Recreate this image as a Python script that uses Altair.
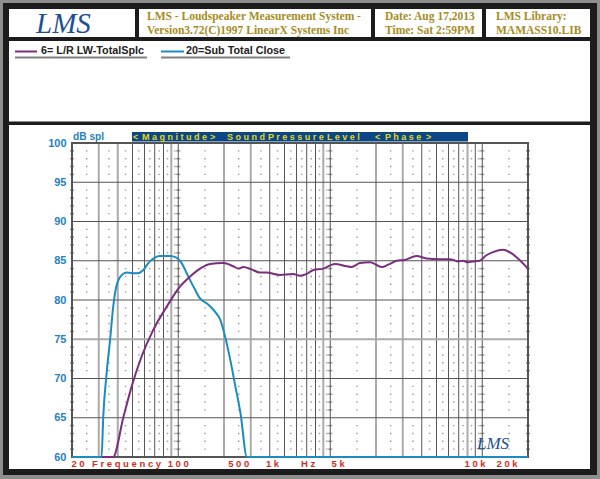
import altair as alt
import pandas as pd

# ---------------- data ----------------
blue_freq = [20, 31.3, 32.1, 33.8, 35.6, 37.3, 39.1, 42.6, 45.7, 53.3, 58.8, 63.5, 70.1,
             75.6, 88.1, 97.4, 105.3, 113.7, 125.9, 139.1, 157.9, 174.9, 188.9, 203.7,
             219.8, 237.5, 256.7, 283, 20000]
blue_db = [60, 60, 65.1, 70.7, 74.9, 79.1, 81.7, 83.2, 83.5, 83.4, 83.8, 84.7, 85.4,
           85.6, 85.6, 85.4, 84.7, 83.4, 81.7, 80.2, 79.4, 78.5, 77.5, 75.3,
           72.4, 69.0, 65.6, 60, 60]

purple_freq = [31.3, 37.2, 43.6, 49.4, 57.4, 68.5, 83.7, 102.6, 119.7, 139.1, 161.6, 197.5,
               230, 248.4, 268, 303, 345, 381, 466, 571, 630, 696, 769, 901, 1070, 1283,
               1381, 1566, 1832, 2185, 2407, 2735, 3082, 3694, 4295, 5265, 6133, 6450,
               6930, 7470, 8040, 8680, 9610, 10640, 11770, 13700, 15130, 17180, 20000]
purple_db = [60, 60, 65.1, 69.0, 72.8, 76.2, 79.1, 81.7, 83.0, 84.0, 84.6, 84.7,
             84.3, 84.0, 84.2, 83.9, 83.5, 83.5, 83.2, 83.3, 83.1, 83.3, 83.8, 84.0, 84.6, 84.3,
             84.2, 84.7, 84.8, 84.2, 84.5, 85.0, 85.1, 85.6, 85.3, 85.2, 85.2, 85.1,
             84.9, 85.0, 84.8, 84.9, 85.0, 85.7, 86.1, 86.4, 86.1, 85.3, 84.0]

y_ticks = [60, 65, 70, 75, 80, 85, 90, 95, 100]
x_label_text = ["2 0", "F r e q u e n c y", "1 0 0", "5 0 0", "1 k", "H z", "5 k", "1 0 k", "2 0 k"]
x_label_freq = [21.9, 45.7, 100, 250, 417, 714, 1128, 8966, 14560]

grid_light = [30, 40, 90, 200, 300, 900, 2000, 3000, 8000]
grid_dark = [50, 60, 70, 80, 100, 400, 500, 600, 700, 800, 1000, 4000, 5000, 6000, 7000, 9000, 10000]
hgrid_dark = [65, 70, 80, 85, 90, 95]
hgrid_light = [75]
minor_freq = [25, 35, 45, 55, 65, 75, 85, 95,
              150, 250, 350, 450, 550, 650, 750, 850, 950,
              1500, 2500, 3500, 4500, 5500, 6500, 7500, 8500, 9500, 15000]
minor_db = [d for d in range(61, 100) if d % 5]
decade_freq = [20, 100, 1000, 10000, 20000]

legend_names = ["6= L/R LW-TotalSplc", "20=Sub Total Close"]
header_title = ["LMS - Loudspeaker Measurement System -", "Version3.72(C)1997 LinearX Systems Inc"]
header_date = ["Date: Aug 17,2013", "Time: Sat 2:59PM"]
header_lib = ["LMS Library:", "MAMASS10.LIB"]

# ---------------- helpers ----------------
PX0, PY0 = 72, 143
W, H = 456, 314
one = pd.DataFrame({"k": [0]})


def px(x):
    return x - PX0


def py(y):
    return y - PY0


def box(x1, y1, x2, y2, color):
    return alt.Chart(one).mark_rect(color=color).encode(
        x=alt.value(px(x1)), x2=alt.value(px(x2)), y=alt.value(py(y1)), y2=alt.value(py(y2)))


def hline(x1, x2, y, color, w):
    return alt.Chart(one).mark_rule(color=color, strokeWidth=w).encode(
        x=alt.value(px(x1)), x2=alt.value(px(x2)), y=alt.value(py(y)))


def txt(s, x, y, color, size, font="Liberation Sans", weight="bold", style="normal", align="left"):
    return alt.Chart(one).mark_text(text=s, align=align, baseline="middle", color=color,
                                    fontSize=size, font=font, fontWeight=weight,
                                    fontStyle=style).encode(x=alt.value(px(x)), y=alt.value(py(y)))


xs = alt.Scale(type="log", domain=[20, 20000], nice=False)
ys = alt.Scale(domain=[60, 100], nice=False, zero=False)
yax = alt.Axis(values=y_ticks, labelColor="#1f82c0", labelFont="Liberation Sans",
               labelFontWeight="bold", labelFontSize=11, labelPadding=6, ticks=False,
               domain=False, grid=False, title=None, zindex=2)

layers = []
# frame
layers.append(box(3, 3, 597, 475, "#1c1c1c"))
layers.append(box(9, 9, 135, 37, "white"))
layers.append(box(139, 9, 371, 37, "white"))
layers.append(box(375, 9, 482, 37, "white"))
layers.append(box(486, 9, 590, 37, "white"))
layers.append(box(9, 41, 590, 121.5, "white"))
layers.append(box(9, 125, 590, 469, "white"))

# header texts
gold = "#a68c1f"
layers.append(txt("LMS", 36, 24, "#1d4f96", 29, font="Liberation Serif", weight="normal", style="italic"))
layers.append(txt(header_title[0], 147, 17, gold, 11.5, font="Liberation Serif"))
layers.append(txt(header_title[1], 147, 31, gold, 11.5, font="Liberation Serif"))
layers.append(txt(header_date[0], 385, 17, gold, 11.5, font="Liberation Serif"))
layers.append(txt(header_date[1], 385, 31, gold, 11.5, font="Liberation Serif"))
layers.append(txt(header_lib[0], 496, 17, gold, 11.5, font="Liberation Serif"))
layers.append(txt(header_lib[1], 496, 31, gold, 11.5, font="Liberation Serif"))

# legend
layers.append(hline(15, 37, 51.5, "#7b2d7e", 2))
layers.append(txt(legend_names[0], 41, 51, "#222222", 10.8))
layers.append(hline(15, 147, 57.5, "#808080", 2))
layers.append(hline(161, 184, 51.5, "#1a8cc0", 2))
layers.append(txt(legend_names[1], 186, 51, "#222222", 10.8))
layers.append(hline(161, 290, 57.5, "#808080", 2))

# chart title bar
layers.append(box(132, 132, 468, 141.5, "#0b4786"))
yel = "#e3d81c"
for s, x in [("<", 133), ("M a g n i t u d e", 142), (">", 210), ("S o u n d", 227),
             ("P r e s s u r e", 268), ("L e v e l", 327), ("<", 375), ("P h a s e", 385), (">", 426)]:
    layers.append(txt(s, x, 137, yel, 9))
layers.append(txt("dB spl", 73, 136.5, "#1f82c0", 10.2))

# minor dots
dots = pd.DataFrame([(f, d) for f in minor_freq for d in minor_db], columns=["f", "d"])
layers.append(alt.Chart(dots).mark_square(size=2, color="#9a9a9a", opacity=1).encode(
    x=alt.X("f:Q", scale=xs, axis=None), y=alt.Y("d:Q", scale=ys, axis=yax)))
ticks_df = pd.DataFrame([(f, d) for f in decade_freq for d in minor_db], columns=["f", "d"])
layers.append(alt.Chart(ticks_df).mark_tick(orient="horizontal", size=4, thickness=1.5, color="#666666").encode(
    x=alt.X("f:Q", scale=xs, axis=None), y=alt.Y("d:Q", scale=ys, axis=yax)))

# grid
layers.append(alt.Chart(pd.DataFrame({"f": grid_light})).mark_rule(color="#ababab", strokeWidth=2).encode(
    x=alt.X("f:Q", scale=xs, axis=None)))
layers.append(alt.Chart(pd.DataFrame({"f": grid_dark})).mark_rule(color="#555555", strokeWidth=1).encode(
    x=alt.X("f:Q", scale=xs, axis=None)))
layers.append(alt.Chart(pd.DataFrame({"d": hgrid_light})).mark_rule(color="#ababab", strokeWidth=2).encode(
    y=alt.Y("d:Q", scale=ys, axis=yax)))
layers.append(alt.Chart(pd.DataFrame({"d": hgrid_dark})).mark_rule(color="#555555", strokeWidth=1).encode(
    y=alt.Y("d:Q", scale=ys, axis=yax)))

# plot border
layers.append(alt.Chart(one).mark_rect(fill="transparent", stroke="#555555", strokeWidth=2).encode(
    x=alt.value(0), x2=alt.value(W), y=alt.value(0), y2=alt.value(H)))

# curves
bdf = pd.DataFrame({"f": blue_freq, "d": blue_db})
pdf = pd.DataFrame({"f": purple_freq, "d": purple_db})
layers.append(alt.Chart(bdf).mark_line(color="#1a8cc0", strokeWidth=2, interpolate="monotone").encode(
    x=alt.X("f:Q", scale=xs, axis=None), y=alt.Y("d:Q", scale=ys, axis=yax)))
layers.append(alt.Chart(pdf).mark_line(color="#7b2d7e", strokeWidth=2, interpolate="monotone").encode(
    x=alt.X("f:Q", scale=xs, axis=None), y=alt.Y("d:Q", scale=ys, axis=yax)))

# x labels
xl = pd.DataFrame({"t": x_label_text, "f": x_label_freq})
layers.append(alt.Chart(xl).mark_text(color="#cf2e1e", fontSize=9.5, font="Liberation Sans",
                                      fontWeight="bold", baseline="middle").encode(
    x=alt.X("f:Q", scale=xs, axis=None), y=alt.value(py(464)), text="t:N"))

# small logo
layers.append(txt("LMS", 477, 444, "#1d4f96", 17, font="Liberation Serif", weight="normal", style="italic"))

chart = alt.layer(*layers).properties(
    width=W, height=H,
    autosize=alt.AutoSizeParams(type="none"),
    padding={"left": 72, "top": 143, "right": 72, "bottom": 22},
    background="#8e8e8e",
).configure_view(strokeWidth=0)

chart.save("out.html", embed_options={"renderer": "svg", "actions": False})
